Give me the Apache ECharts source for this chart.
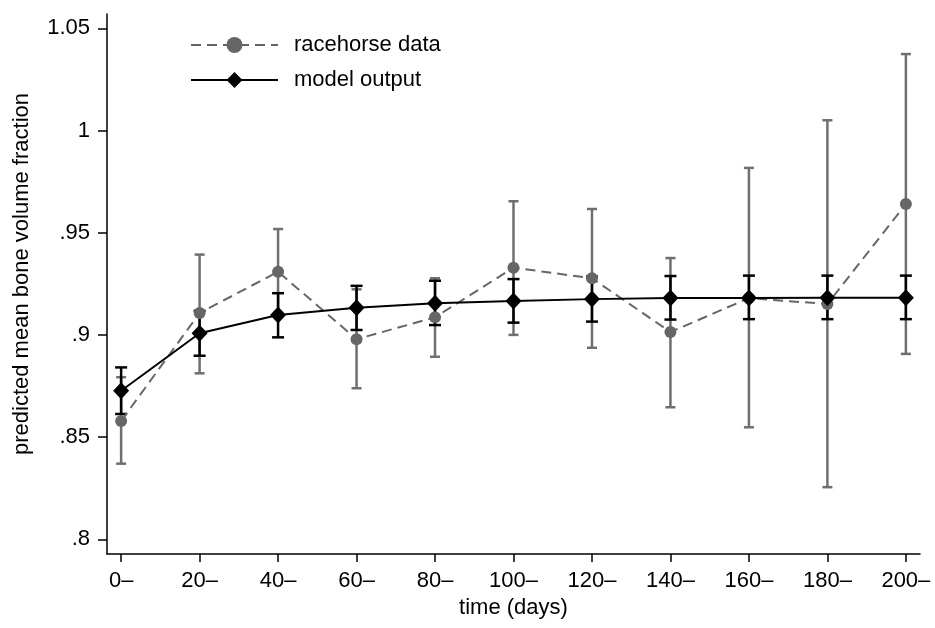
<!DOCTYPE html>
<html>
<head>
<meta charset="utf-8">
<script src="https://cdn.jsdelivr.net/npm/echarts@6/dist/echarts.min.js"></script>
<style>
html,body{margin:0;padding:0;background:#fff;}
#chart{width:935px;height:628px;}
</style>
</head>
<body>
<div id="chart"></div>
<script>
// ---- data ----
const days = [0, 20, 40, 60, 80, 100, 120, 140, 160, 180, 200];
const racehorseMean = [0.8579, 0.9107, 0.9309, 0.8979, 0.9086, 0.9329, 0.9277, 0.9014, 0.9180, 0.9151, 0.9640];
const racehorseLow  = [0.8370, 0.8812, 0.9100, 0.8739, 0.8893, 0.9000, 0.8937, 0.8646, 0.8548, 0.8255, 0.8907];
const racehorseHigh = [0.8793, 0.9393, 0.9518, 0.9223, 0.9277, 0.9654, 0.9616, 0.9376, 0.9817, 1.0050, 1.0374];
const modelMean = [0.8727, 0.9008, 0.9097, 0.9133, 0.9155, 0.9166, 0.9175, 0.9180, 0.9181, 0.9182, 0.9182];
const modelLow  = [0.8613, 0.8898, 0.8988, 0.9024, 0.9048, 0.9060, 0.9065, 0.9075, 0.9077, 0.9077, 0.9077];
const modelHigh = [0.8841, 0.9118, 0.9204, 0.9240, 0.9265, 0.9273, 0.9285, 0.9288, 0.9290, 0.9290, 0.9290];
const xTicks = [0, 20, 40, 60, 80, 100, 120, 140, 160, 180, 200];
const yTicks = [0.8, 0.85, 0.9, 0.95, 1, 1.05];
const yTickLabels = ['.8', '.85', '.9', '.95', '1', '1.05'];

const FONT = 'Liberation Sans';
const FS = 22;
const GRAY = '#666666';
const GRAY_BAR = '#6f6f6f';

function errData(lo, hi) { return days.map((d, i) => [d, lo[i], hi[i]]); }
function errRender(color, capHalf, width) {
  return function (params, api) {
    const x = api.value(0);
    const pLo = api.coord([x, api.value(1)]);
    const pHi = api.coord([x, api.value(2)]);
    const st = { stroke: color, lineWidth: width };
    return {
      type: 'group',
      children: [
        { type: 'line', shape: { x1: pLo[0], y1: pLo[1], x2: pHi[0], y2: pHi[1] }, style: st },
        { type: 'line', shape: { x1: pLo[0] - capHalf, y1: pLo[1], x2: pLo[0] + capHalf, y2: pLo[1] }, style: st },
        { type: 'line', shape: { x1: pHi[0] - capHalf, y1: pHi[1], x2: pHi[0] + capHalf, y2: pHi[1] }, style: st }
      ]
    };
  };
}

const chart = echarts.init(document.getElementById('chart'), null, { renderer: 'canvas' });
chart.setOption({
  backgroundColor: '#ffffff',
  animation: false,
  textStyle: { fontFamily: FONT },
  grid: { left: 107, right: 15, top: 14, bottom: 74, containLabel: false },
  legend: {
    orient: 'vertical',
    left: 185,
    top: 29,
    itemWidth: 87,
    itemHeight: 20,
    itemGap: 13,
    data: ['racehorse data', 'model output'],
    textStyle: { fontFamily: FONT, fontSize: FS, color: '#000', padding: [0, 0, 0, 11] }
  },
  xAxis: {
    type: 'value',
    min: -3.6,
    max: 203.6,
    name: 'time (days)',
    nameLocation: 'middle',
    nameGap: 43,
    nameTextStyle: { fontFamily: FONT, fontSize: FS, color: '#000' },
    splitLine: { show: false },
    axisLine: { show: true, onZero: false, lineStyle: { color: '#000', width: 1.5 } },
    axisTick: { show: true, length: 8, customValues: xTicks, lineStyle: { color: '#000', width: 1.5 } },
    axisLabel: {
      customValues: xTicks,
      margin: 16,
      fontFamily: FONT, fontSize: FS, color: '#000',
      formatter: v => v + '\u2013'
    }
  },
  yAxis: {
    type: 'value',
    min: 0.7928,
    max: 1.057,
    name: 'predicted mean bone volume fraction',
    nameLocation: 'middle',
    nameRotate: 90,
    nameGap: 74,
    nameTextStyle: { fontFamily: FONT, fontSize: FS, color: '#000', padding: [0, 0, 0, 20] },
    splitLine: { show: false },
    axisLine: { show: true, onZero: false, lineStyle: { color: '#000', width: 1.5 } },
    axisTick: { show: true, length: 9, customValues: yTicks, lineStyle: { color: '#000', width: 1.5 } },
    axisLabel: {
      customValues: yTicks,
      margin: 17,
      fontFamily: FONT, fontSize: FS, color: '#000',
      formatter: v => yTickLabels[yTicks.findIndex(t => Math.abs(t - v) < 1e-9)]
    }
  },
  series: [
    {
      name: 'racehorse err',
      type: 'custom',
      renderItem: errRender(GRAY_BAR, 5, 2.5),
      data: errData(racehorseLow, racehorseHigh),
      encode: { x: 0, y: [1, 2] },
      z: 1,
      silent: true
    },
    {
      name: 'model err',
      type: 'custom',
      renderItem: errRender('#000', 6, 2.5),
      data: errData(modelLow, modelHigh),
      encode: { x: 0, y: [1, 2] },
      z: 2,
      silent: true
    },
    {
      name: 'racehorse data',
      type: 'line',
      data: days.map((d, i) => [d, racehorseMean[i]]),
      symbol: 'circle',
      symbolSize: 12,
      showSymbol: true,
      itemStyle: { color: GRAY },
      lineStyle: { color: GRAY, width: 2, type: [10, 6] },
      z: 3
    },
    {
      name: 'model output',
      type: 'line',
      data: days.map((d, i) => [d, modelMean[i]]),
      symbol: 'diamond',
      symbolSize: [16, 17],
      showSymbol: true,
      itemStyle: { color: '#000' },
      lineStyle: { color: '#000', width: 2 },
      z: 4
    }
  ]
});
</script>
</body>
</html>
